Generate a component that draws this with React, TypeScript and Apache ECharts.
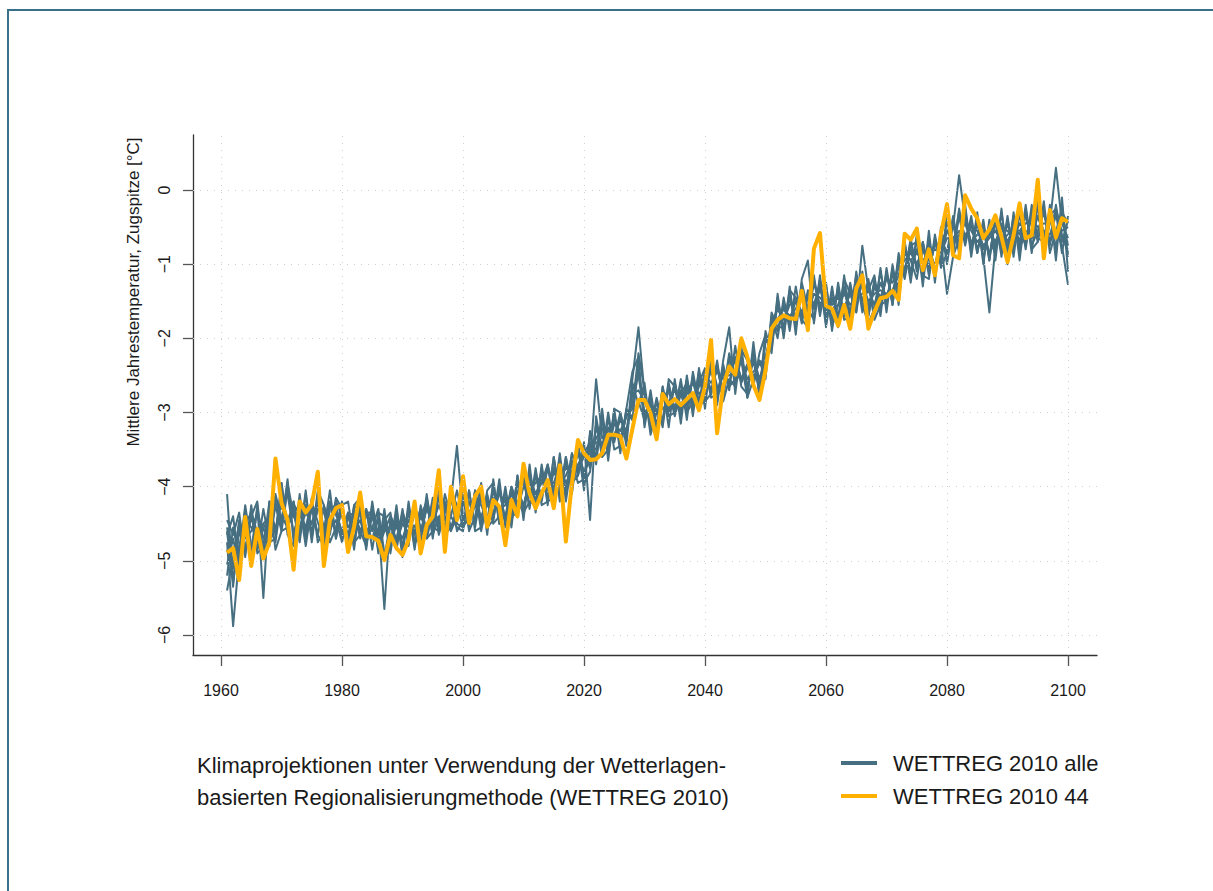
import React, { useEffect, useRef } from "react";
import * as echarts from "echarts";

const FONT = "'Liberation Sans', Arial, Helvetica, sans-serif";
const BLUE = "#466f81";
const ORANGE = "#ffb000";

const startYear = 1961;
const xTicks = [1960, 1980, 2000, 2020, 2040, 2060, 2080, 2100];
const yTicks = [-6, -5, -4, -3, -2, -1, 0];

const nameAll = "WETTREG 2010 alle";
const name44 = "WETTREG 2010 44";
const yTitle = "Mittlere Jahrestemperatur, Zugspitze [°C]";
const caption = "Klimaprojektionen unter Verwendung der Wetterlagen-\nbasierten Regionalisierungmethode (WETTREG 2010)";

// WETTREG 2010 44 (1961..2100)
const run44 = [
  -4.89, -4.83, -5.26, -4.41, -5.07, -4.57, -4.97, -4.75, -3.62, -4.22,
  -4.45, -5.12, -4.20, -4.35, -4.24, -3.80, -5.07, -4.45, -4.29, -4.25,
  -4.88, -4.54, -4.08, -4.67, -4.68, -4.73, -4.99, -4.65, -4.83, -4.92,
  -4.72, -4.20, -4.90, -4.52, -4.40, -3.78, -4.88, -4.00, -4.45, -3.86,
  -4.49, -4.13, -4.00, -4.54, -4.18, -4.27, -4.79, -4.18, -4.40, -3.69,
  -4.09, -4.29, -4.09, -3.91, -4.29, -3.71, -4.74, -3.95, -3.37, -3.55,
  -3.64, -3.63, -3.55, -3.30, -3.30, -3.32, -3.62, -3.22, -2.83, -2.83,
  -3.01, -3.36, -2.75, -2.89, -2.82, -2.90, -2.82, -2.74, -2.97, -2.65,
  -2.02, -3.28, -2.65, -2.38, -2.49, -2.00, -2.25, -2.63, -2.83, -2.43,
  -1.87, -1.75, -1.69, -1.73, -1.74, -1.36, -1.89, -0.79, -0.58, -1.56,
  -1.60, -1.83, -1.55, -1.87, -1.33, -1.15, -1.87, -1.64, -1.46, -1.44,
  -1.36, -1.48, -0.59, -0.67, -0.52, -1.08, -0.80, -1.15, -0.59, -0.19,
  -0.88, -0.92, -0.07, -0.25, -0.38, -0.65, -0.53, -0.34, -0.63, -0.97,
  -0.61, -0.18, -0.65, -0.61, 0.14, -0.92, -0.27, -0.64, -0.38, -0.43,
];

// WETTREG 2010 alle: ensemble members (1961..2100)
const runA = [
  -4.75, -5.88, -4.95, -4.50, -4.35, -4.62, -4.88, -4.40, -4.22, -4.30,
  -4.10, -4.62, -4.35, -4.55, -4.20, -4.48, -4.70, -4.25, -4.38, -4.60,
  -4.35, -4.72, -4.30, -4.55, -4.70, -4.42, -4.95, -4.48, -4.75, -4.50,
  -4.62, -4.30, -4.70, -4.25, -4.55, -4.12, -4.58, -4.40, -4.05, -4.45,
  -4.20, -4.48, -4.15, -4.50, -4.05, -4.35, -4.40, -4.00, -4.25, -3.90,
  -4.15, -3.85, -4.20, -3.70, -4.05, -3.62, -4.10, -3.55, -3.80, -3.50,
  -3.75, -3.20, -3.45, -3.10, -3.40, -3.05, -3.35, -2.55, -1.85, -2.75,
  -3.15, -2.95, -3.10, -2.65, -2.95, -2.70, -2.90, -2.55, -2.85, -2.45,
  -2.70, -2.40, -2.75, -2.20, -2.55, -2.25, -2.65, -2.30, -2.70, -2.05,
  -2.05, -1.55, -1.85, -1.45, -1.75, -1.30, -1.70, -1.25, -1.55, -1.40,
  -1.75, -1.35, -1.65, -1.30, -1.60, -1.10, -1.65, -1.25, -1.55, -1.15,
  -1.45, -0.95, -1.10, -0.70, -1.05, -0.75, -1.10, -0.70, -0.95, -0.40,
  -0.75, -0.30, -0.65, -0.45, -0.80, -0.55, -0.90, -0.40, -0.75, -0.45,
  -0.75, -0.30, -0.70, -0.35, -0.20, -0.65, -0.35, -0.25, -0.60, -0.85,
];
const runB = [
  -4.10, -5.30, -4.60, -4.85, -4.40, -4.75, -4.50, -4.65, -4.10, -4.45,
  -3.95, -4.40, -4.55, -4.25, -4.60, -4.30, -4.35, -4.60, -4.20, -4.40,
  -4.65, -4.35, -4.60, -4.40, -4.35, -4.80, -4.55, -4.70, -4.45, -4.80,
  -4.35, -4.65, -4.40, -4.60, -4.25, -4.50, -4.30, -4.15, -4.40, -4.10,
  -4.45, -4.10, -4.50, -4.15, -4.40, -4.05, -4.45, -4.35, -3.95, -4.30,
  -3.85, -4.20, -3.80, -4.05, -3.75, -4.00, -3.70, -3.90, -3.45, -3.85,
  -3.45, -3.50, -3.10, -3.45, -3.05, -3.40, -3.00, -3.05, -2.85, -3.10,
  -2.80, -3.25, -2.75, -3.00, -2.60, -2.95, -2.65, -2.85, -2.55, -2.80,
  -2.35, -2.80, -2.45, -2.60, -2.25, -2.55, -2.35, -2.60, -2.30, -2.40,
  -1.75, -1.90, -1.55, -1.80, -1.45, -1.70, -1.45, -1.60, -1.25, -1.65,
  -1.45, -1.70, -1.35, -1.65, -1.20, -1.50, -1.35, -1.55, -1.25, -1.45,
  -1.15, -1.30, -0.75, -1.10, -0.80, -1.05, -0.70, -1.10, -0.65, -0.85,
  -0.45, -0.75, -0.35, -0.80, -0.40, -0.90, -1.65, -0.75, -0.45, -0.80,
  -0.45, -0.70, -0.30, -0.75, -0.55, -0.30, -0.70, -0.55, -0.30, -0.45,
];
const runC = [
  -5.05, -4.70, -5.10, -4.40, -4.85, -4.30, -4.70, -4.55, -4.75, -4.15,
  -4.45, -4.25, -4.60, -4.35, -4.50, -4.20, -4.55, -4.45, -4.60, -4.30,
  -4.55, -4.40, -4.65, -4.30, -4.60, -4.45, -5.65, -4.40, -4.55, -4.70,
  -4.45, -4.55, -4.30, -4.70, -4.35, -4.45, -4.20, -4.55, -4.30, -4.20,
  -4.50, -4.25, -4.40, -4.20, -4.35, -4.10, -4.20, -4.45, -4.05, -4.25,
  -3.95, -4.10, -3.90, -4.15, -3.80, -3.95, -3.85, -3.65, -3.75, -3.60,
  -3.55, -3.35, -3.20, -3.50, -3.15, -3.25, -3.05, -2.90, -2.45, -3.00,
  -2.90, -3.15, -2.80, -2.70, -3.05, -2.75, -2.60, -2.90, -2.65, -2.50,
  -2.60, -2.45, -2.55, -2.45, -2.30, -2.60, -2.40, -2.25, -2.55, -2.30,
  -1.80, -1.60, -1.75, -1.55, -1.50, -1.65, -1.40, -1.55, -1.35, -1.45,
  -1.55, -1.45, -1.60, -1.40, -1.35, -1.45, -1.55, -1.30, -1.45, -1.20,
  -1.25, -1.05, -0.95, -0.85, -1.00, -0.80, -0.95, -1.00, -0.70, -0.55,
  -0.50, 0.20, -0.40, -0.55, -0.70, -0.60, -0.55, -0.70, -0.50, -0.55,
  -0.65, -0.45, -0.55, -0.60, -0.35, -0.55, -0.60, -0.35, -0.55, -0.50,
];
const runD = [
  -4.55, -5.10, -4.45, -4.70, -4.60, -4.35, -4.85, -4.30, -4.55, -4.40,
  -4.55, -4.35, -4.25, -4.60, -4.30, -4.65, -4.25, -4.50, -4.30, -4.65,
  -4.40, -4.60, -4.45, -4.75, -4.40, -4.65, -4.50, -4.80, -4.50, -4.45,
  -4.70, -4.35, -4.60, -4.30, -4.50, -4.25, -4.45, -4.20, -3.45, -4.40,
  -4.35, -4.20, -4.45, -4.25, -4.15, -4.30, -4.25, -4.10, -4.30, -4.00,
  -4.05, -3.95, -3.85, -3.95, -3.95, -3.70, -3.95, -3.80, -3.55, -3.80,
  -3.65, -2.55, -3.35, -3.25, -3.30, -3.10, -3.25, -2.75, -2.70, -2.85,
  -3.05, -3.00, -2.95, -2.85, -2.70, -2.90, -2.75, -2.60, -2.75, -2.65,
  -2.45, -2.70, -2.50, -2.50, -2.45, -2.30, -2.55, -2.45, -2.35, -2.25,
  -1.95, -1.75, -1.60, -1.70, -1.60, -1.45, -1.65, -1.40, -1.45, -1.55,
  -1.60, -1.55, -1.40, -1.55, -1.45, -1.25, -1.50, -1.40, -1.35, -1.40,
  -1.35, -1.15, -0.85, -0.95, -0.85, -0.95, -0.85, -0.80, -0.85, -0.65,
  -0.65, -0.55, -0.60, -0.50, -0.55, -0.75, -0.65, -0.55, -0.70, -0.60,
  -0.55, -0.55, -0.45, -0.40, -0.50, -0.45, -0.45, 0.30, -0.45, -0.65,
];
const runE = [
  -5.20, -4.55, -4.95, -4.25, -4.80, -4.85, -4.30, -4.75, -4.70, -3.95,
  -4.65, -4.80, -4.10, -4.70, -4.15, -4.75, -4.60, -4.05, -4.70, -4.25,
  -4.20, -4.75, -4.65, -4.30, -4.85, -4.35, -4.40, -4.90, -4.35, -4.95,
  -4.25, -4.80, -4.30, -4.70, -4.60, -4.10, -4.65, -4.55, -4.45, -4.05,
  -4.60, -4.40, -3.95, -4.55, -4.45, -3.90, -4.55, -4.35, -4.40, -3.80,
  -4.30, -3.75, -4.25, -4.20, -3.60, -4.10, -3.65, -3.95, -3.85, -3.40,
  -4.45, -3.05, -3.55, -3.00, -3.50, -3.45, -2.95, -3.10, -2.35, -3.15,
  -2.75, -3.35, -2.65, -3.05, -3.00, -2.55, -3.10, -2.45, -2.90, -2.85,
  -2.25, -2.85, -2.35, -2.70, -2.10, -2.65, -2.75, -2.15, -2.80, -2.45,
  -1.70, -2.00, -1.45, -1.90, -1.30, -1.75, -1.85, -1.15, -1.70, -1.25,
  -1.90, -1.25, -1.75, -1.70, -1.15, -1.55, -1.80, -1.60, -1.10, -1.55,
  -1.05, -1.40, -0.70, -1.20, -0.65, -1.15, -1.20, -0.60, -1.05, -0.85,
  -0.35, -0.80, -0.25, -0.90, -0.35, -0.95, -0.45, -0.85, -0.30, -0.85,
  -0.35, -0.85, -0.20, -0.80, -0.70, -0.15, -0.85, -0.55, -0.75, -1.28,
];
const runF = [
  -4.65, -4.40, -5.05, -4.30, -4.95, -4.25, -5.50, -4.20, -4.65, -3.95,
  -4.55, -4.20, -4.70, -4.05, -4.75, -4.10, -4.65, -4.20, -4.70, -4.20,
  -4.80, -4.25, -4.15, -4.80, -4.25, -4.90, -4.30, -4.85, -4.25, -4.90,
  -4.20, -4.75, -4.70, -4.10, -4.70, -4.05, -4.65, -4.15, -4.50, -4.55,
  -4.05, -4.55, -4.05, -4.65, -3.90, -4.50, -4.00, -4.55, -3.85, -4.45,
  -3.70, -4.35, -3.70, -4.25, -3.60, -4.20, -3.60, -4.10, -3.45, -4.05,
  -3.25, -3.70, -2.95, -3.65, -2.95, -3.55, -2.95, -2.45, -2.25, -3.20,
  -2.70, -3.25, -2.65, -3.20, -2.55, -3.15, -2.50, -3.05, -2.40, -2.95,
  -2.20, -2.90, -2.30, -1.85, -2.75, -2.10, -2.80, -2.05, -2.75, -1.90,
  -2.20, -1.40, -2.00, -1.30, -1.95, -1.20, -0.95, -1.80, -1.20, -1.85,
  -1.30, -1.85, -1.15, -1.80, -1.10, -1.65, -1.20, -1.70, -1.05, -1.65,
  -1.00, -1.55, -0.70, -1.25, -0.60, -1.30, -0.55, -1.25, -0.50, -1.00,
  -0.45, -0.85, -0.20, -0.85, -0.30, -1.00, -0.40, -0.95, -0.25, -1.00,
  -0.30, -0.95, -0.25, -0.85, -0.15, -0.90, -0.20, -0.95, -0.10, -1.10,
];
const runG = [
  -4.45, -4.65, -4.35, -4.95, -4.25, -4.90, -4.80, -4.20, -4.85, -4.60,
  -4.05, -4.35, -4.75, -4.10, -4.70, -4.05, -4.25, -4.75, -4.55, -4.20,
  -4.85, -4.25, -4.35, -4.85, -4.20, -4.75, -4.45, -4.35, -4.80, -4.30,
  -4.80, -4.20, -4.75, -4.15, -4.55, -4.60, -4.10, -4.40, -4.55, -4.60,
  -4.05, -4.60, -4.55, -4.05, -3.95, -4.50, -4.05, -4.50, -3.85, -4.40,
  -3.80, -4.30, -3.75, -4.20, -4.15, -3.55, -4.20, -3.65, -3.95, -3.90,
  -3.30, -3.60, -3.05, -3.55, -2.95, -3.00, -3.45, -2.60, -2.90, -2.60,
  -3.25, -2.85, -3.20, -2.55, -2.65, -3.05, -2.55, -2.95, -2.45, -2.85,
  -2.75, -2.30, -2.85, -2.55, -2.65, -2.15, -2.30, -2.65, -2.20, -1.95,
  -2.15, -1.45, -1.95, -1.40, -1.85, -1.25, -1.60, -1.75, -1.15, -1.80,
  -1.35, -1.75, -1.20, -1.40, -1.65, -0.75, -1.35, -1.15, -1.70, -1.05,
  -1.55, -0.85, -1.20, -0.75, -0.70, -1.20, -0.65, -1.15, -0.55, -0.40,
  -0.85, -0.35, -0.75, -0.35, -0.85, -0.40, -0.95, -0.35, -0.90, -0.35,
  -0.90, -0.30, -0.80, -0.20, -0.65, -0.70, -0.25, -0.80, -0.20, -0.90,
];
const runH = [
  -4.60, -5.35, -4.50, -4.85, -4.40, -4.20, -4.95, -4.60, -4.15, -4.55,
  -3.90, -4.75, -4.25, -4.80, -4.25, -4.65, -4.80, -4.30, -4.25, -4.70,
  -4.35, -4.85, -4.20, -4.70, -4.55, -4.30, -4.90, -4.75, -4.40, -4.85,
  -4.30, -4.85, -4.25, -4.60, -4.15, -4.65, -4.35, -4.10, -4.60, -4.45,
  -4.50, -4.05, -4.60, -4.20, -4.50, -4.40, -4.15, -4.45, -4.20, -4.35,
  -4.20, -4.25, -3.80, -4.15, -3.75, -4.05, -3.60, -4.00, -3.40, -3.95,
  -3.80, -3.15, -3.60, -3.50, -3.05, -3.35, -3.05, -2.95, -2.20, -2.70,
  -3.30, -3.00, -3.10, -2.65, -2.95, -2.75, -3.00, -2.85, -2.60, -2.40,
  -2.80, -2.75, -2.40, -2.65, -2.55, -2.30, -2.80, -2.55, -2.30, -2.55,
  -1.65, -1.85, -1.85, -1.35, -1.45, -1.80, -1.35, -1.55, -1.25, -1.35,
  -1.85, -1.55, -1.30, -1.75, -1.45, -1.40, -1.25, -1.75, -1.55, -1.50,
  -1.10, -1.35, -0.85, -0.95, -1.20, -0.70, -1.05, -0.75, -0.70, -1.40,
  -0.90, -0.65, -0.30, -0.75, -0.45, -0.80, -0.60, -0.45, -0.85, -0.75,
  -0.45, -0.75, -0.65, -0.35, -0.25, -0.80, -0.45, -0.30, -0.85, -0.35,
];
const runI = [
  -4.85, -5.10, -4.80, -4.45, -4.55, -4.70, -4.50, -4.40, -4.60, -4.10,
  -4.55, -4.25, -4.35, -4.60, -4.50, -4.20, -4.65, -4.55, -4.45, -4.75,
  -4.40, -4.35, -4.60, -4.80, -4.30, -4.65, -4.55, -4.55, -4.70, -4.35,
  -4.55, -4.60, -4.40, -4.20, -4.65, -4.40, -4.55, -4.05, -4.25, -4.55,
  -4.40, -4.15, -4.25, -4.45, -4.00, -4.35, -4.45, -4.00, -4.25, -4.30,
  -3.85, -4.10, -3.95, -3.70, -4.20, -3.90, -3.75, -3.80, -3.70, -3.55,
  -3.50, -3.40, -3.45, -3.20, -3.35, -3.00, -3.35, -2.70, -2.50, -3.05,
  -2.85, -3.20, -2.80, -2.95, -2.60, -3.00, -2.70, -2.60, -2.85, -2.55,
  -2.30, -2.65, -2.75, -2.35, -2.50, -2.55, -2.35, -2.50, -2.60, -2.35,
  -1.85, -1.75, -1.60, -1.75, -1.50, -1.65, -1.45, -1.60, -1.30, -1.70,
  -1.50, -1.40, -1.65, -1.35, -1.55, -1.25, -1.70, -1.30, -1.45, -1.40,
  -1.40, -1.00, -1.05, -0.80, -1.00, -0.85, -0.80, -1.05, -0.90, -0.55,
  -0.70, -0.60, -0.45, -0.70, -0.60, -0.55, -0.85, -0.70, -0.50, -0.70,
  -0.50, -0.60, -0.35, -0.65, -0.35, -0.60, -0.40, -0.60, -0.35, -0.75,
];
const runJ = [
  -5.40, -4.95, -4.50, -4.90, -4.30, -4.85, -4.55, -4.80, -4.25, -4.60,
  -4.55, -4.20, -4.65, -4.25, -4.65, -4.30, -4.30, -4.65, -4.15, -4.30,
  -4.70, -4.30, -4.70, -4.35, -4.35, -4.85, -4.60, -4.40, -4.85, -4.40,
  -4.75, -4.25, -4.55, -4.65, -4.20, -4.55, -4.25, -4.60, -4.40, -4.05,
  -4.55, -4.05, -4.45, -4.10, -4.45, -4.00, -4.50, -4.05, -4.35, -3.95,
  -4.25, -3.85, -4.15, -3.75, -4.10, -3.70, -4.05, -3.55, -3.85, -3.55,
  -3.40, -3.60, -3.10, -3.45, -3.05, -3.45, -3.00, -3.10, -2.90, -2.70,
  -3.20, -2.80, -3.15, -2.60, -3.00, -2.60, -3.00, -2.50, -2.90, -2.45,
  -2.75, -2.35, -2.80, -2.25, -2.60, -2.20, -2.70, -2.20, -2.75, -2.00,
  -2.10, -1.50, -1.90, -1.40, -1.80, -1.35, -1.75, -1.20, -1.60, -1.30,
  -1.80, -1.30, -1.70, -1.25, -1.65, -1.15, -1.70, -1.20, -1.60, -1.10,
  -1.55, -0.90, -1.15, -0.65, -1.10, -0.70, -1.15, -0.65, -1.00, -0.35,
  -0.85, -0.25, -0.70, -0.40, -0.85, -0.45, -0.95, -0.35, -0.80, -0.40,
  -0.80, -0.25, -0.75, -0.30, -0.70, -0.25, -0.75, -0.20, -0.70, -0.40,
];

const ensemble = [runA, runB, runC, runD, runE, runF, runG, runH, runI, runJ];

const toPairs = (vals: number[]) => vals.map((v, i) => [startYear + i, v]);
const minusLabel = (v: number) => (v < 0 ? "\u2212" + Math.abs(v) : String(v));

export default function App() {
  const ref = useRef<HTMLDivElement>(null);

  useEffect(() => {
    document.body.style.margin = "0";
    document.body.style.overflow = "hidden";
    if (!ref.current) return;
    const chart = echarts.init(ref.current, undefined, { renderer: "svg" });

    const blueSeries = ensemble.map((vals) => ({
      name: nameAll,
      type: "line",
      data: toPairs(vals),
      symbol: "none",
      showSymbol: false,
      z: 2,
      lineStyle: { color: BLUE, width: 2, join: "round" },
      itemStyle: { color: BLUE },
      emphasis: { disabled: true },
      silent: true,
    }));

    const option: any = {
      animation: false,
      backgroundColor: "#ffffff",
      textStyle: { fontFamily: FONT },
      grid: { left: 193, top: 135, right: 116, bottom: 236, containLabel: false },
      xAxis: {
        type: "value",
        min: 1955.37,
        max: 2104.79,
        axisLine: { show: true, onZero: false, lineStyle: { color: "#333333", width: 1.3 } },
        axisTick: {
          show: true,
          customValues: xTicks,
          length: 11,
          lineStyle: { color: "#555555", width: 1.3 },
        },
        axisLabel: {
          customValues: xTicks,
          fontSize: 16,
          color: "#1a1a1a",
          margin: 27,
          fontFamily: FONT,
          formatter: (v: number) => String(v),
        },
        splitLine: { show: false },
      },
      yAxis: {
        type: "value",
        min: -6.27,
        max: 0.742,
        axisLine: { show: true, onZero: false, lineStyle: { color: "#333333", width: 1.3 } },
        axisTick: {
          show: true,
          customValues: yTicks,
          length: 10,
          lineStyle: { color: "#555555", width: 1.3 },
        },
        axisLabel: {
          customValues: yTicks,
          rotate: 90,
          fontSize: 16,
          color: "#1a1a1a",
          margin: 21,
          fontFamily: FONT,
          formatter: (v: number) => minusLabel(v),
        },
        splitLine: { show: false },
      },
      legend: {
        data: [{ name: nameAll }, { name: name44 }],
        orient: "vertical",
        left: 841,
        top: 752,
        padding: 0,
        itemWidth: 36,
        itemHeight: 4,
        itemGap: 11,
        icon: "rect",
        selectedMode: false,
        textStyle: {
          fontSize: 22,
          lineHeight: 22,
          color: "#1a1a1a",
          fontFamily: FONT,
          padding: [0, 0, 0, 11],
        },
      },
      graphic: [
        {
          type: "rect",
          silent: true,
          z: -10,
          shape: { x: 8, y: 10, width: 1400, height: 1000 },
          style: { fill: "none", stroke: "#38708a", lineWidth: 2 },
        },
        {
          type: "text",
          x: 133,
          y: 292,
          rotation: Math.PI / 2,
          silent: true,
          style: {
            text: yTitle,
            fontSize: 17,
            fill: "#1a1a1a",
            fontFamily: FONT,
            align: "center",
            verticalAlign: "middle",
          },
        },
        {
          type: "text",
          x: 197,
          y: 749,
          silent: true,
          style: {
            text: caption,
            fontSize: 22,
            lineHeight: 32,
            fill: "#1a1a1a",
            fontFamily: FONT,
            align: "left",
            verticalAlign: "top",
          },
        },
      ],
      series: [
        {
          name: "grid",
          type: "line",
          data: [],
          z: 1,
          silent: true,
          markLine: {
            silent: true,
            symbol: ["none", "none"],
            label: { show: false },
            emphasis: { disabled: true },
            lineStyle: { color: "#cfcfcf", type: [1, 6], width: 1 },
            data: [
              ...xTicks.map((v) => ({ xAxis: v })),
              ...yTicks.map((v) => ({ yAxis: v })),
            ],
          },
        },
        ...blueSeries,
        {
          name: name44,
          type: "line",
          data: toPairs(run44),
          symbol: "none",
          showSymbol: false,
          z: 3,
          lineStyle: { color: ORANGE, width: 4, join: "round" },
          itemStyle: { color: ORANGE },
          emphasis: { disabled: true },
          silent: true,
        },
      ],
    };

    chart.setOption(option);
    return () => chart.dispose();
  }, []);

  return (
    <div
      ref={ref}
      style={{ position: "absolute", left: 0, top: 0, width: 1213, height: 891, background: "#fff" }}
    />
  );
}
